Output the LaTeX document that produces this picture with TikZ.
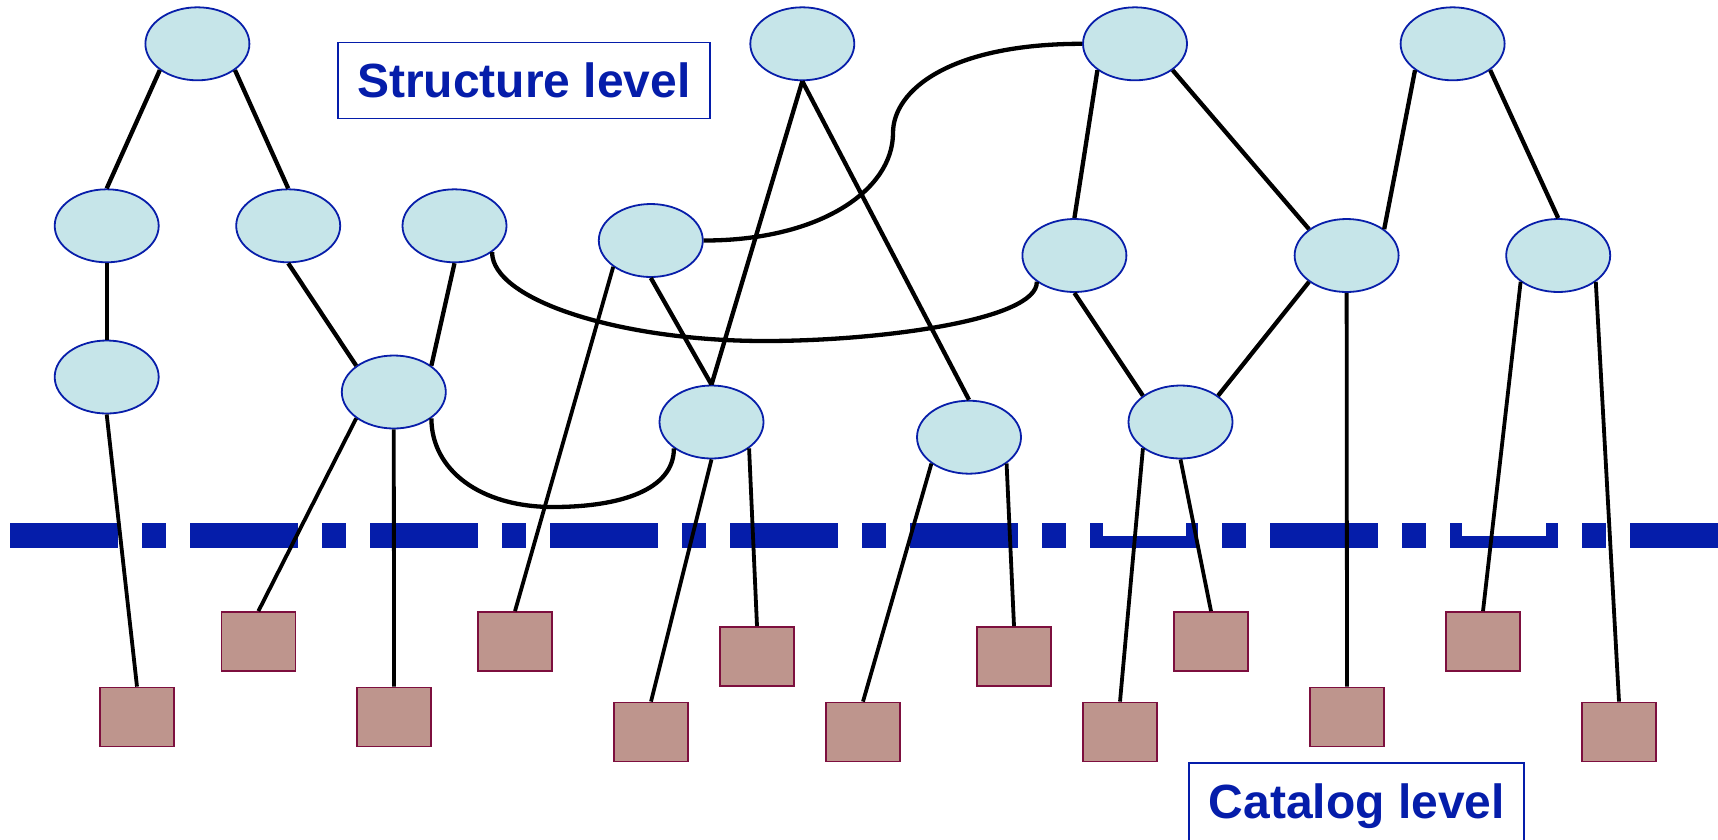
\documentclass[tikz,border=0pt]{standalone}
\usepackage{fontspec}
\setmainfont{Liberation Sans}
\usetikzlibrary{shapes.geometric}
\definecolor{efill}{RGB}{198,229,233}
\definecolor{eline}{RGB}{8,30,170}
\definecolor{rfill}{RGB}{190,149,141}
\definecolor{rline}{RGB}{125,15,62}
\definecolor{dblue}{RGB}{5,29,170}
\begin{document}
\begin{tikzpicture}[x=1pt,y=-1pt,
  ell/.style={ellipse,draw=eline,fill=efill,line width=1.8pt,minimum width=104pt,minimum height=73pt,inner sep=0pt},
  cat/.style={rectangle,draw=rline,fill=rfill,line width=1.8pt,minimum width=74pt,minimum height=59pt,inner sep=0pt},
  link/.style={line width=4.3pt,black},
  leg/.style={line width=3.8pt,black},
  lbl/.style={text=dblue,font=\bfseries\fontsize{48}{58}\selectfont,inner sep=0pt}]
\useasboundingbox (0,0) rectangle (1718,839);
\clip (0,0) rectangle (1718,839);
\fill[white] (0,0) rectangle (1718,839);
% level separator
\foreach \k in {0,...,9}{
  \pgfmathsetmacro{\xa}{10.3+180*\k}
  \fill[dblue] (\xa,523.3) rectangle ++(108,24.4);
  \fill[dblue] (\xa+132,523.3) rectangle ++(24,24.4);
}
\fill[white] (1102.5,523) rectangle (1186,535.5);
\fill[white] (1462.3,523) rectangle (1546,535.5);
% ellipses
\node[ell] (e1) at (197.4,43.8) {};
\node[ell] (e2) at (106.7,225.8) {};
\node[ell] (e3) at (288.2,225.8) {};
\node[ell] (e4) at (454.5,225.8) {};
\node[ell] (e5) at (106.7,377) {};
\node[ell] (e6) at (393.8,392) {};
\node[ell] (e7) at (650.8,240.5) {};
\node[ell] (e8) at (802.3,43.8) {};
\node[ell] (e9) at (711.5,422) {};
\node[ell] (e10) at (969,437.2) {};
\node[ell] (e11) at (1135,43.8) {};
\node[ell] (e12) at (1074.4,255.5) {};
\node[ell] (e13) at (1346.6,255.5) {};
\node[ell] (e14) at (1452.6,43.8) {};
\node[ell] (e15) at (1558.2,255.5) {};
\node[ell] (e16) at (1180.5,422) {};
% catalog boxes
\node[cat] (r1) at (137,717) {};
\node[cat] (r2) at (258.4,641.5) {};
\node[cat] (r3) at (394,717) {};
\node[cat] (r4) at (515,641.5) {};
\node[cat] (r5) at (651,732) {};
\node[cat] (r6) at (757,656.5) {};
\node[cat] (r7) at (863,732) {};
\node[cat] (r8) at (1014,656.5) {};
\node[cat] (r9) at (1120,732) {};
\node[cat] (r10) at (1211,641.5) {};
\node[cat] (r11) at (1347,717) {};
\node[cat] (r12) at (1483,641.5) {};
\node[cat] (r13) at (1619,732) {};
% labels
\node[lbl,draw=dblue,line width=1.8pt,minimum width=372pt,minimum height=76pt,text height=34.4pt,text depth=0pt] (structure) at (524,80.5) {Structure level};
\node[lbl,anchor=base] (catalog) at (1357,818) {Catalog level};
\draw[dblue,line width=1.8pt] (1188.7,850) |- (1523.9,762.6) -- (1523.9,850);
% structure links
\draw[link] (e1.215) -- (e2.north);
\draw[link] (e1.325) -- (e3.north);
\draw[link] (e2.south) -- (e5.north);
\draw[link] (e3.south) -- (e6.145);
\draw[link] (e4.south) -- (e6.35);
\draw[link] (e4.325) .. controls (492,300) and (620,341) .. (765,341) .. controls (880,341) and (1037.6,320) .. (e12.215);
\draw[link] (e6.325) .. controls (431.5,470) and (480,507) .. (553,507) .. controls (620,507) and (674,490) .. (e9.215);
\draw[link] (e7.east) .. controls (820,240.7) and (893,190) .. (893,133) .. controls (893,90) and (950,43.8) .. (e11.west);
\draw[link] (e8.south) -- (e9.north);
\draw[link] (e8.south) -- (e10.north);
\draw[link] (e7.south) -- (e9.north);
\draw[link] (e11.215) -- (e12.north);
\draw[link] (e11.325) -- (e13.145);
\draw[link] (e14.215) -- (e13.35);
\draw[link] (e14.325) -- (e15.north);
\draw[link] (e12.south) -- (e16.145);
\draw[link] (e13.215) -- (e16.35);
% catalog links
\draw[leg] (e5.south) -- (r1.north);
\draw[leg] (e6.215) -- (r2.north);
\draw[leg] (e6.south) -- (r3.north);
\draw[leg] (e7.215) -- (r4.north);
\draw[leg] (e9.south) -- (r5.north);
\draw[leg] (e9.325) -- (r6.north);
\draw[leg] (e10.215) -- (r7.north);
\draw[leg] (e10.325) -- (r8.north);
\draw[leg] (e16.215) -- (r9.north);
\draw[leg] (e16.south) -- (r10.north);
\draw[leg] (e13.south) -- (r11.north);
\draw[leg] (e15.215) -- (r12.north);
\draw[leg] (e15.325) -- (r13.north);
\end{tikzpicture}
\end{document}
